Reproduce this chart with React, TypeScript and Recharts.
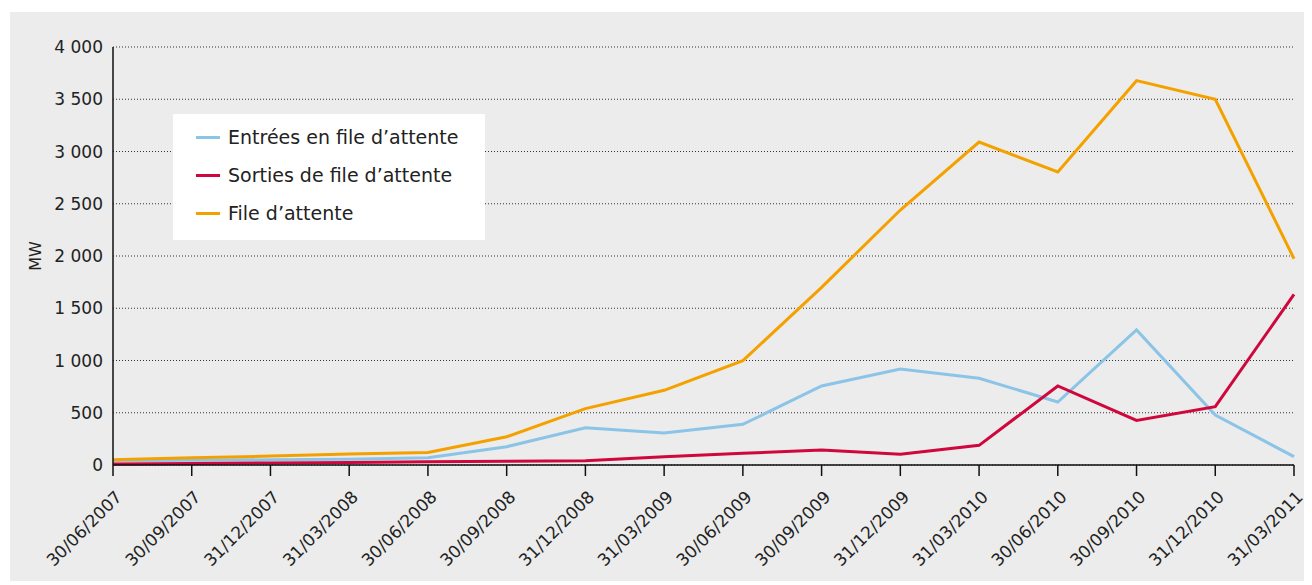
import React from 'react'
import { LineChart, Line, XAxis, YAxis, CartesianGrid, Legend } from 'recharts'

const dates = [
  '30/06/2007', '30/09/2007', '31/12/2007', '31/03/2008', '30/06/2008', '30/09/2008',
  '31/12/2008', '31/03/2009', '30/06/2009', '30/09/2009', '31/12/2009', '31/03/2010',
  '30/06/2010', '30/09/2010', '31/12/2010', '31/03/2011',
]
const entrees = [40, 45, 50, 55, 70, 175, 357, 306, 389, 756, 918, 830, 603, 1292, 478, 80]
const sorties = [10, 15, 20, 25, 30, 35, 40, 80, 112, 144, 102, 188, 756, 427, 558, 1633]
const fileAttente = [50, 70, 85, 105, 120, 270, 540, 715, 998, 1700, 2440, 3091, 2804, 3678, 3500, 1974]
const yTicks = [0, 500, 1000, 1500, 2000, 2500, 3000, 3500, 4000]
const seriesOrder = ['entrees', 'sorties', 'file']

const data = dates.map((date, i) => ({
  date,
  entrees: entrees[i],
  sorties: sorties[i],
  file: fileAttente[i],
}))

const FONT = '"DejaVu Sans", sans-serif'
const TEXT = '#222'

const fmt = (v: number) => String(v).replace(/\B(?=(\d{3})+(?!\d))/g, ' ')

function DateTick({ x, y, payload }: any) {
  const ax = x + 10
  const ay = y + 20
  return (
    <text
      x={ax}
      y={ay}
      textAnchor="end"
      transform={`rotate(-45 ${ax} ${ay})`}
      fontSize={17}
      fontFamily={FONT}
      fill={TEXT}
    >
      {payload.value}
    </text>
  )
}

const renderLegend = (props: any) => (
  <div
    style={{
      background: '#fff',
      width: 312,
      height: 126,
      boxSizing: 'border-box',
      padding: '4px 0 0 23px',
      fontFamily: FONT,
      fontSize: 19,
      color: TEXT,
    }}
  >
    {props.payload.map((item: any) => (
      <div key={item.value} style={{ display: 'flex', alignItems: 'center', height: 38 }}>
        <span style={{ display: 'inline-block', width: 24, height: 3, background: item.color, marginRight: 8 }} />
        {item.value}
      </div>
    ))}
  </div>
)

export default function App() {
  return (
    <div style={{ position: 'relative', left: 2, top: 4, width: 1302, height: 573, background: '#ebeceb' }}>
      <LineChart width={1302} height={573} data={data} margin={{ top: 35, right: 18, bottom: 10, left: 0 }}>
        <CartesianGrid vertical={false} stroke="#333" strokeDasharray="1 2" />
        <XAxis
          dataKey="date"
          interval={0}
          height={110}
          tickSize={11}
          axisLine={{ stroke: '#111', strokeWidth: 1.5 }}
          tickLine={{ stroke: '#111', strokeWidth: 1.5 }}
          tick={<DateTick />}
        />
        <YAxis
          width={103}
          domain={[0, 4000]}
          ticks={yTicks}
          interval={0}
          tickLine={false}
          tickSize={6}
          tickMargin={4}
          axisLine={{ stroke: '#111', strokeWidth: 1.5 }}
          tickFormatter={fmt}
          tick={{ fontSize: 17, fontFamily: FONT, fill: TEXT }}
          label={{
            content: (p: any) => {
              const vb = p.viewBox
              const cx = vb.x + 25
              const cy = vb.y + vb.height / 2
              return (
                <text
                  x={cx}
                  y={cy}
                  textAnchor="middle"
                  dominantBaseline="central"
                  transform={`rotate(-90 ${cx} ${cy})`}
                  fontSize={16}
                  fontFamily={FONT}
                  fill={TEXT}
                >
                  MW
                </text>
              )
            },
          }}
        />
        <Legend
          layout="vertical"
          align="center"
          verticalAlign="middle"
          itemSorter={(item: any) => seriesOrder.indexOf(item.dataKey)}
          content={renderLegend}
          wrapperStyle={{ left: 163, top: 102, width: 312 }}
        />
        <Line
          type="linear"
          dataKey="entrees"
          name="Entrées en file d’attente"
          stroke="#8cc4e8"
          strokeWidth={3}
          dot={false}
          isAnimationActive={false}
        />
        <Line
          type="linear"
          dataKey="sorties"
          name="Sorties de file d’attente"
          stroke="#d0073c"
          strokeWidth={3}
          dot={false}
          isAnimationActive={false}
        />
        <Line
          type="linear"
          dataKey="file"
          name="File d’attente"
          stroke="#f4a100"
          strokeWidth={3}
          dot={false}
          isAnimationActive={false}
        />
      </LineChart>
    </div>
  )
}
